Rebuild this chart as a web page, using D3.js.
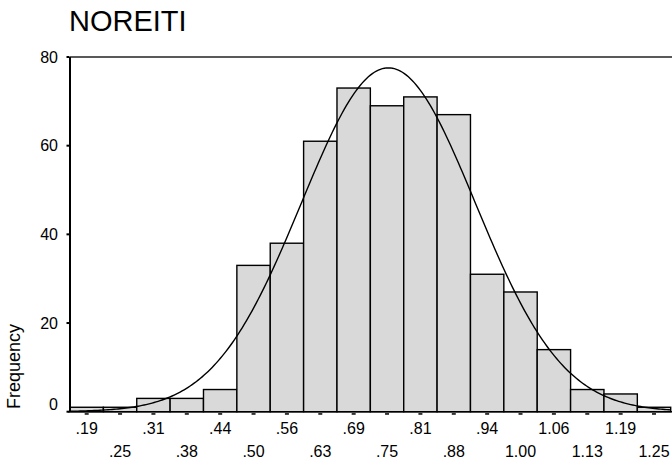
<!DOCTYPE html>
<html>
<head>
<meta charset="utf-8">
<script src="https://cdn.jsdelivr.net/npm/d3@7"></script>
<style>
  html, body { margin: 0; padding: 0; background: #fff; }
  svg { display: block; font-family: Arial, "Liberation Sans", sans-serif; }
</style>
</head>
<body>
<svg id="chart" width="672" height="463"></svg>
<script>
// Histogram of NOREITI with fitted normal curve
const binCenters = [0.1875, 0.25, 0.3125, 0.375, 0.4375, 0.5, 0.5625, 0.625, 0.6875,
                    0.75, 0.8125, 0.875, 0.9375, 1.0, 1.0625, 1.125, 1.1875, 1.25];
const tickLabels = [".19", ".25", ".31", ".38", ".44", ".50", ".56", ".63", ".69",
                    ".75", ".81", ".88", ".94", "1.00", "1.06", "1.13", "1.19", "1.25"];
const frequencies = [1, 1, 3, 3, 5, 33, 38, 61, 73, 69, 71, 67, 31, 27, 14, 5, 4, 1];
const yTickValues = [0, 20, 40, 60, 80];
const binWidth = 0.0625;
const fitMean = 0.7525;
const fitSD = 0.163;

const svg = d3.select("#chart");
const plotLeft = 70, plotRight = 670.7, plotTop = 57, plotBottom = 411.7;

const x = d3.scaleLinear()
  .domain([binCenters[0] - binWidth / 2, binCenters[binCenters.length - 1] + binWidth / 2])
  .range([plotLeft, plotRight]);
const y = d3.scaleLinear().domain([0, 80]).range([plotBottom, plotTop]);

// title
svg.append("text")
  .attr("x", 69).attr("y", 31)
  .attr("font-size", 29)
  .attr("fill", "#000")
  .text("NOREITI");

// bars
svg.append("g").selectAll("rect")
  .data(binCenters)
  .join("rect")
  .attr("x", d => x(d - binWidth / 2))
  .attr("width", d => x(d + binWidth / 2) - x(d - binWidth / 2))
  .attr("y", (d, i) => y(frequencies[i]))
  .attr("height", (d, i) => y(0) - y(frequencies[i]))
  .attr("fill", "#d9d9d9")
  .attr("stroke", "#000")
  .attr("stroke-width", 1.4);

// fitted normal curve
const total = d3.sum(frequencies);
const density = v => total * binWidth / (fitSD * Math.sqrt(2 * Math.PI)) *
  Math.exp(-0.5 * Math.pow((v - fitMean) / fitSD, 2));
const xs = d3.range(x.domain()[0], x.domain()[1] + 1e-9, (x.domain()[1] - x.domain()[0]) / 300);
svg.append("path")
  .datum(xs)
  .attr("fill", "none")
  .attr("stroke", "#000")
  .attr("stroke-width", 1.4)
  .attr("d", d3.line().x(d => x(d)).y(d => y(density(d))));

// frame
svg.append("line").attr("x1", plotLeft).attr("x2", 672).attr("y1", plotTop).attr("y2", plotTop)
  .attr("stroke", "#222").attr("stroke-width", 1.6);
svg.append("line").attr("x1", plotLeft).attr("x2", plotLeft).attr("y1", plotTop).attr("y2", plotBottom)
  .attr("stroke", "#000").attr("stroke-width", 2);
svg.append("line").attr("x1", plotLeft - 2).attr("x2", 672).attr("y1", plotBottom).attr("y2", plotBottom)
  .attr("stroke", "#000").attr("stroke-width", 1.6);

// y axis ticks and labels
const yg = svg.append("g");
yg.selectAll("rect")
  .data(yTickValues)
  .join("rect")
  .attr("x", plotLeft - 3.5).attr("y", d => y(d) - 1)
  .attr("width", 3).attr("height", 2)
  .attr("fill", "#000");
yg.selectAll("text")
  .data(yTickValues)
  .join("text")
  .attr("x", 58)
  .attr("y", d => Math.min(y(d), plotBottom - 7))
  .attr("dy", "0.35em")
  .attr("text-anchor", "end")
  .attr("font-size", 16)
  .text(d => d);

svg.append("text")
  .attr("transform", "translate(20,409) rotate(-90)")
  .attr("text-anchor", "start")
  .attr("font-size", 18)
  .text("Frequency");

// x axis ticks and staggered labels
const xg = svg.append("g");
xg.selectAll("rect")
  .data(binCenters)
  .join("rect")
  .attr("x", d => x(d) - 2).attr("y", plotBottom + 1.5)
  .attr("width", 4).attr("height", 1.5)
  .attr("fill", "#000");
xg.selectAll("text")
  .data(binCenters)
  .join("text")
  .attr("x", d => x(d))
  .attr("y", (d, i) => i % 2 === 0 ? 434 : 457)
  .attr("text-anchor", "middle")
  .attr("font-size", 16)
  .text((d, i) => tickLabels[i]);
</script>
</body>
</html>
